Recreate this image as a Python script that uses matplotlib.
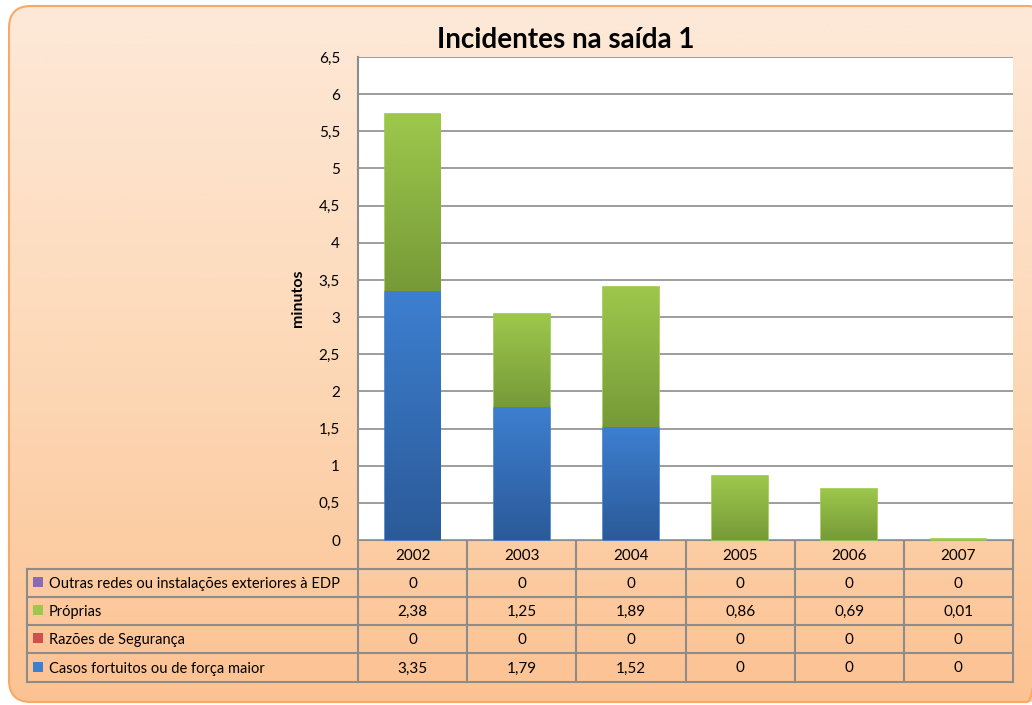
import numpy as np
import matplotlib as mpl
import matplotlib.pyplot as plt
from matplotlib.patches import FancyBboxPatch, Rectangle
from matplotlib.colors import LinearSegmentedColormap

mpl.rcParams['font.family'] = ['Lato', 'DejaVu Sans']

years = ["2002", "2003", "2004", "2005", "2006", "2007"]
series_names = ["Outras redes ou instalações exteriores à EDP", "Próprias",
                "Razões de Segurança", "Casos fortuitos ou de força maior"]
outras = [0, 0, 0, 0, 0, 0]
proprias = [2.38, 1.25, 1.89, 0.86, 0.69, 0.01]
seguranca = [0, 0, 0, 0, 0, 0]
casos = [3.35, 1.79, 1.52, 0, 0, 0]
yticks = np.arange(0, 6.51, 0.5)

# (top colour, bottom colour) for each series
colours = {
    "Outras redes ou instalações exteriores à EDP": ("#8A6BB0", "#5F4A80"),
    "Próprias": ("#9DC84C", "#769A38"),
    "Razões de Segurança": ("#D0504D", "#9A3A38"),
    "Casos fortuitos ou de força maior": ("#3D7FD0", "#2B5A98"),
}
values = {series_names[0]: outras, series_names[1]: proprias,
          series_names[2]: seguranca, series_names[3]: casos}

W, H = 1032, 705
fig = plt.figure(figsize=(W / 100, H / 100), dpi=100)
fig.patch.set_facecolor("white")


def px(x0, y0, x1, y1):
    return [x0 / W, 1 - y1 / H, (x1 - x0) / W, (y1 - y0) / H]


# background with rounded border and orange gradient
bg = fig.add_axes([0, 0, 1, 1])
bg.set_zorder(-2)
bg.set_xlim(0, W)
bg.set_ylim(H, 0)
bg.axis("off")
bg_cmap = LinearSegmentedColormap.from_list("bg", ["#FDE9D9", "#FDD9B8", "#FCC292"])
grad = np.linspace(0, 1, 256).reshape(-1, 1)
frame = FancyBboxPatch((9, 6), 1040, 696, boxstyle="round,pad=0,rounding_size=22",
                       facecolor="none", edgecolor="#F8A965", linewidth=1.5, zorder=2)
bg.add_patch(frame)
im = bg.imshow(grad, extent=(0, W, H, 0), cmap=bg_cmap, aspect="auto", zorder=1)
im.set_clip_path(frame)

bg.text(566, 40, "Incidentes na saída 1", ha="center", va="center",
        fontsize=20, fontweight="bold", color="black")

# plot area
ax = fig.add_axes(px(358, 57, 1013, 540))
ax.set_zorder(1)
ax.set_facecolor("white")
ax.set_xlim(-0.5, len(years) - 0.5)
ax.set_ylim(0, 6.5)
ax.set_yticks(yticks)
ax.set_yticklabels([f"{t:g}".replace(".", ",") for t in yticks], fontsize=11)
ax.tick_params(axis="y", length=0, pad=13)
ax.set_xticks([])
ax.grid(axis="y", color="#8C8C8C", linewidth=1.2)
ax.set_axisbelow(True)
for s in ["top", "right", "bottom"]:
    ax.spines[s].set_visible(False)
ax.spines["left"].set_color("#8C8C8C")
ax.spines["left"].set_linewidth(1.5)
ax.set_ylabel("minutos", fontsize=11.5, fontweight="bold", labelpad=10)

x = np.arange(len(years))
bottom = np.zeros(len(years))
stack_order = [series_names[3], series_names[2], series_names[1], series_names[0]]
for name in stack_order:
    vals = np.array(values[name], dtype=float)
    bars = ax.bar(x, vals, 0.51, bottom=bottom, color=colours[name][1],
                  edgecolor=[colours[name][0] if v > 0 else "none" for v in vals],
                  linewidth=1.2, zorder=3, clip_on=False)
    cm = LinearSegmentedColormap.from_list(name, [colours[name][1], colours[name][0]])
    for b, v in zip(bars, vals):
        if v <= 0.05:
            continue
        x0, y0 = b.get_x(), b.get_y()
        g = ax.imshow(grad[::-1], extent=(x0, x0 + b.get_width(), y0, y0 + v),
                      cmap=cm, aspect="auto", origin="upper", zorder=4)
        g.set_clip_path(b)
    bottom += vals
ax.set_xlim(-0.5, len(years) - 0.5)
ax.set_ylim(0, 6.5)

# data table
tb = fig.add_axes([0, 0, 1, 1])
tb.set_zorder(0)
tb.set_xlim(0, W)
tb.set_ylim(H, 0)
tb.axis("off")
line_c = "#8C8C8C"
col_x = np.linspace(358, 1013, len(years) + 1)
row_y = [540, 569, 597, 625, 653, 682]
label_x0 = 27
lw = 1.5
# header row
tb.plot([358, 1013], [row_y[0], row_y[0]], color=line_c, lw=lw)
for cx in col_x:
    tb.plot([cx, cx], [row_y[0], row_y[-1]], color=line_c, lw=lw)
for yy in row_y[1:]:
    tb.plot([label_x0, 1013], [yy, yy], color=line_c, lw=lw)
tb.plot([label_x0, label_x0], [row_y[1], row_y[-1]], color=line_c, lw=lw)
for i, yr in enumerate(years):
    tb.text((col_x[i] + col_x[i + 1]) / 2, (row_y[0] + row_y[1]) / 2 + 1, yr,
            ha="center", va="center", fontsize=11)
for r, name in enumerate(series_names):
    yc = (row_y[r + 1] + row_y[r + 2]) / 2
    tb.add_patch(Rectangle((33, yc - 6), 10, 10, facecolor=colours[name][0],
                           edgecolor="none"))
    tb.text(49, yc + 1, name, ha="left", va="center", fontsize=10.5)
    for i, v in enumerate(values[name]):
        tb.text((col_x[i] + col_x[i + 1]) / 2, yc + 1, f"{v:g}".replace(".", ","),
                ha="center", va="center", fontsize=11)

fig.savefig("out.png", dpi=100)
